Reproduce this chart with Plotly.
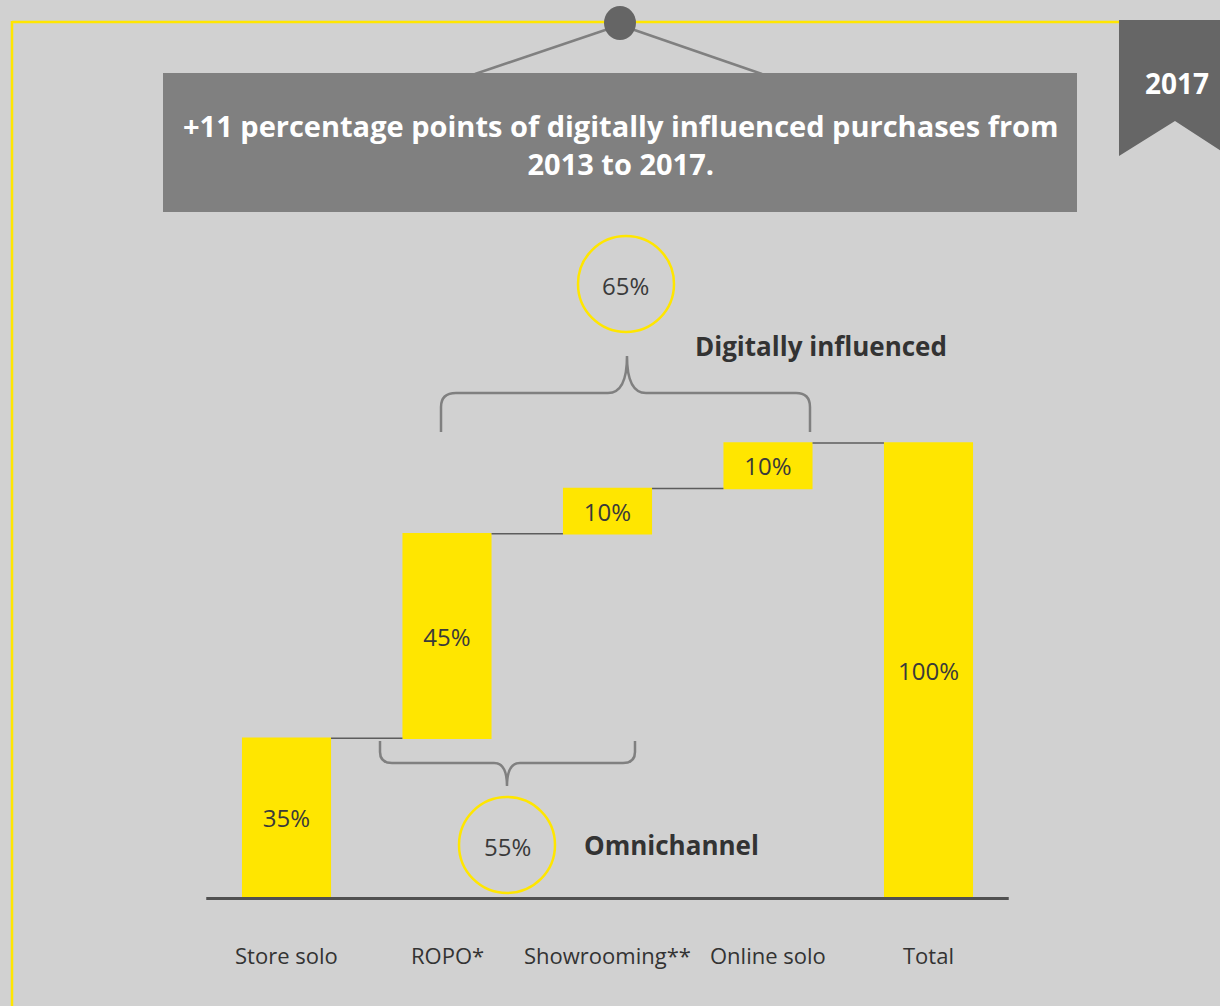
import plotly.graph_objects as go

# Purchase journey shares, 2017
categories = ["Store solo", "ROPO*", "Showrooming**", "Online solo", "Total"]
shares = [35, 45, 10, 10, 100]
measures = ["relative", "relative", "relative", "relative", "total"]
share_labels = [f"{v}%" for v in shares]

digital_share = 65
omni_share = 55
digital_label = "Digitally influenced"
omni_label = "Omnichannel"
headline = "+11 percentage points of digitally influenced purchases from<br>2013 to 2017."
year_tag = "2017"

W, H = 1220, 1006
YELLOW = "#FFE600"
BG = "#d1d1d1"
GREY = "#808080"
DARK = "#3a3a3a"
FONT = "Open Sans"


def px(x):
    return x / W


def py(y):
    return 1 - y / H


def path(points_cmds):
    out = []
    for cmd, pts in points_cmds:
        coords = " ".join(f"{px(x):.5f},{py(y):.5f}" for x, y in pts)
        out.append(f"{cmd} {coords}")
    return " ".join(out)


fig = go.Figure()

fig.add_trace(go.Waterfall(
    x=categories,
    y=shares,
    measure=measures,
    text=share_labels,
    textposition="inside",
    insidetextanchor="middle",
    constraintext="none",
    textfont=dict(family=FONT, size=24, color=DARK),
    increasing=dict(marker=dict(color=YELLOW, line=dict(width=0))),
    totals=dict(marker=dict(color=YELLOW, line=dict(width=0))),
    connector=dict(mode="between", line=dict(color="#5c5c5c", width=1.5)),
    width=0.555,
    hoverinfo="skip",
    cliponaxis=False,
    showlegend=False,
))

shapes = []

# yellow frame (top and left edges)
shapes.append(dict(type="line", xref="paper", yref="paper",
                   x0=px(12), y0=py(22), x1=px(1122), y1=py(22),
                   line=dict(color=YELLOW, width=2.5)))
shapes.append(dict(type="line", xref="paper", yref="paper",
                   x0=px(12), y0=py(21), x1=px(12), y1=py(1010),
                   line=dict(color=YELLOW, width=2.5)))

# headline banner hanging from a pin
shapes.append(dict(type="line", xref="paper", yref="paper",
                   x0=px(620), y0=py(25), x1=px(475), y1=py(74),
                   line=dict(color=GREY, width=2.5)))
shapes.append(dict(type="line", xref="paper", yref="paper",
                   x0=px(620), y0=py(25), x1=px(762), y1=py(74),
                   line=dict(color=GREY, width=2.5)))
shapes.append(dict(type="rect", xref="paper", yref="paper",
                   x0=px(163), y0=py(73), x1=px(1077), y1=py(212),
                   fillcolor=GREY, line=dict(width=0), layer="above"))
shapes.append(dict(type="circle", xref="paper", yref="paper",
                   x0=px(604), y0=py(6), x1=px(636), y1=py(40),
                   fillcolor="#656565", line=dict(width=0), layer="above"))

# year ribbon
shapes.append(dict(type="path", xref="paper", yref="paper",
                   path=path([("M", [(1119, 20)]), ("L", [(1232, 20)]),
                              ("L", [(1232, 158)]), ("L", [(1175, 121)]),
                              ("L", [(1119, 156)])]) + " Z",
                   fillcolor="#666666", line=dict(width=0)))

# baseline
shapes.append(dict(type="line", xref="x", yref="paper",
                   x0=-0.5, x1=4.5, y0=py(898.5), y1=py(898.5),
                   line=dict(color="#505050", width=3)))

# brace over the digitally influenced bars
shapes.append(dict(type="path", xref="paper", yref="paper",
                   path=path([
                       ("M", [(441, 432)]), ("L", [(441, 407)]),
                       ("Q", [(441, 393), (456, 393)]), ("L", [(608, 393)]),
                       ("Q", [(627, 393), (627, 356)]),
                       ("Q", [(627, 393), (646, 393)]), ("L", [(796, 393)]),
                       ("Q", [(810, 393), (810, 407)]), ("L", [(810, 432)]),
                   ]),
                   line=dict(color=GREY, width=2.5)))

# brace under the omnichannel bars
shapes.append(dict(type="path", xref="paper", yref="paper",
                   path=path([
                       ("M", [(380, 741)]), ("L", [(380, 752)]),
                       ("Q", [(380, 763), (392, 763)]), ("L", [(494, 763)]),
                       ("Q", [(507, 763), (507, 786)]),
                       ("Q", [(507, 763), (520, 763)]), ("L", [(623, 763)]),
                       ("Q", [(635, 763), (635, 752)]), ("L", [(635, 741)]),
                   ]),
                   line=dict(color=GREY, width=2.5)))

# share bubbles
shapes.append(dict(type="circle", xref="paper", yref="paper",
                   x0=px(578), y0=py(236), x1=px(674), y1=py(332),
                   line=dict(color=YELLOW, width=2.5)))
shapes.append(dict(type="circle", xref="paper", yref="paper",
                   x0=px(459), y0=py(797), x1=px(555), y1=py(893),
                   line=dict(color=YELLOW, width=2.5)))

annotations = [
    dict(xref="paper", yref="paper", x=px(620), y=py(144),
         text=f"<b>{headline}</b>", showarrow=False,
         font=dict(family=FONT, size=29, color="white"),
         align="center", xanchor="center", yanchor="middle"),
    dict(xref="paper", yref="paper", x=px(1177), y=py(83),
         text=f"<b>{year_tag}</b>", showarrow=False,
         font=dict(family=FONT, size=28, color="white"),
         xanchor="center", yanchor="middle"),
    dict(xref="paper", yref="paper", x=px(625), y=py(286),
         text=f"{digital_share}%", showarrow=False,
         font=dict(family=FONT, size=24, color=DARK),
         xanchor="center", yanchor="middle"),
    dict(xref="paper", yref="paper", x=px(507), y=py(846),
         text=f"{omni_share}%", showarrow=False,
         font=dict(family=FONT, size=24, color=DARK),
         xanchor="center", yanchor="middle"),
    dict(xref="paper", yref="paper", x=px(693), y=py(346),
         text=f"<b>{digital_label}</b>", showarrow=False,
         font=dict(family=FONT, size=26, color="#333333"),
         xanchor="left", yanchor="middle"),
    dict(xref="paper", yref="paper", x=px(582), y=py(845),
         text=f"<b>{omni_label}</b>", showarrow=False,
         font=dict(family=FONT, size=26, color="#333333"),
         xanchor="left", yanchor="middle"),
]

# category labels under the baseline
for cat in categories:
    annotations.append(dict(xref="x", yref="paper", x=cat, y=py(955),
                            text=cat, showarrow=False,
                            font=dict(family=FONT, size=22, color="#333333"),
                            xanchor="center", yanchor="middle"))

x_lo = -286.5 / 160.5
x_hi = (W - 286.5) / 160.5

fig.update_layout(
    width=W, height=H,
    margin=dict(l=0, r=0, t=0, b=0),
    paper_bgcolor=BG, plot_bgcolor=BG,
    xaxis=dict(type="category", range=[x_lo, x_hi], visible=False,
               fixedrange=True),
    yaxis=dict(range=[-24.0, 197.6], visible=False, fixedrange=True),
    shapes=shapes,
    annotations=annotations,
    showlegend=False,
)

fig.write_html("out.html")
